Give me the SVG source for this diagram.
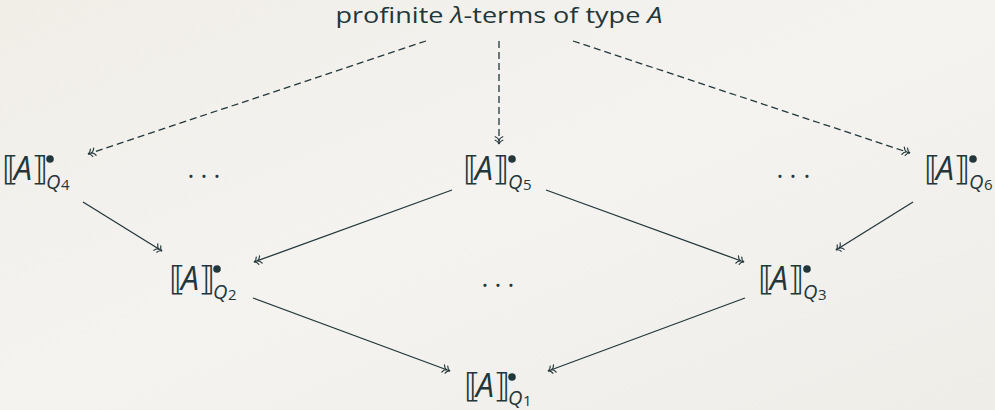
<svg xmlns="http://www.w3.org/2000/svg" width="995" height="410" viewBox="0 0 995 410">
  <defs>
    <linearGradient id="bg" x1="0" y1="0" x2="1" y2="1">
      <stop offset="0" stop-color="#f1eee8"/>
      <stop offset="0.5" stop-color="#f4f3f0"/>
      <stop offset="1" stop-color="#efede8"/>
    </linearGradient>
    <marker id="dh" viewBox="-9 -5 10 10" refX="0" refY="0" markerWidth="10" markerHeight="10" markerUnits="userSpaceOnUse" orient="auto">
      <path d="M-3.8,-3.8 C-3,-1.5 -1.2,-0.3 0,0 C-1.2,0.3 -3,1.5 -3.8,3.8 M-7.3,-3.8 C-6.5,-1.5 -4.7,-0.3 -3.5,0 C-4.7,0.3 -6.5,1.5 -7.3,3.8" fill="none" stroke="#23373b" stroke-width="1.2" stroke-linecap="round"/>
    </marker>
  </defs>
  <style>
    .t { fill: #23373b; font-family: "Open Sans", "Noto Sans", "DejaVu Sans", sans-serif; }
    .br { font-family: "DejaVu Sans", sans-serif; font-size: 33px; }
    .it { font-style: italic; font-size: 32px; }
    .q { font-style: italic; font-size: 20px; }
    .d { font-size: 15px; font-style: normal; }
    .c { fill: none; stroke: #23373b; stroke-width: 1.3; marker-end: url(#dh); }
    .dash { stroke-dasharray: 7 4; }
    .dots { font-size: 26px; text-anchor: middle; }
  </style>
  <rect width="995" height="410" fill="url(#bg)"/>

  <g id="title">
    <text class="t" x="499" y="23" font-size="21" text-anchor="middle" textLength="327" lengthAdjust="spacingAndGlyphs">profinite <tspan font-style="italic">λ</tspan>-terms of type <tspan font-style="italic">A</tspan></text>
  </g>

  <g id="connectors">
    <line class="c dash" x1="426" y1="41" x2="88" y2="154"/>
    <line class="c dash" x1="499" y1="41" x2="499" y2="144"/>
    <line class="c dash" x1="573" y1="41" x2="910" y2="153"/>
    <line class="c" x1="83" y1="202" x2="162" y2="251"/>
    <line class="c" x1="452" y1="190" x2="254" y2="262"/>
    <line class="c" x1="546" y1="190" x2="744" y2="262"/>
    <line class="c" x1="913" y1="202" x2="836" y2="250"/>
    <line class="c" x1="253" y1="298" x2="450" y2="371"/>
    <line class="c" x1="745" y1="298" x2="548" y2="371"/>
  </g>

  <g id="Q4" transform="translate(5,180)">
    <text class="t"><tspan class="br" x="-3" y="0">⟦</tspan><tspan class="it" x="9" y="0">A</tspan><tspan class="br" x="27" y="0">⟧</tspan><tspan class="q" x="41" y="9">Q</tspan><tspan class="d" x="56" y="10">4</tspan></text>
    <circle cx="45" cy="-21" r="3.8" fill="#23373b"/>
  </g>
  <g id="Q5" transform="translate(466,180)">
    <text class="t"><tspan class="br" x="-3" y="0">⟦</tspan><tspan class="it" x="9" y="0">A</tspan><tspan class="br" x="27" y="0">⟧</tspan><tspan class="q" x="42" y="9">Q</tspan><tspan class="d" x="57" y="10">5</tspan></text>
    <circle cx="46" cy="-21" r="3.8" fill="#23373b"/>
  </g>
  <g id="Q6" transform="translate(927,180)">
    <text class="t"><tspan class="br" x="-3" y="0">⟦</tspan><tspan class="it" x="9" y="0">A</tspan><tspan class="br" x="27" y="0">⟧</tspan><tspan class="q" x="42" y="9">Q</tspan><tspan class="d" x="57" y="10">6</tspan></text>
    <circle cx="46" cy="-21" r="3.8" fill="#23373b"/>
  </g>
  <g id="Q2" transform="translate(172,290)">
    <text class="t"><tspan class="br" x="-3" y="0">⟦</tspan><tspan class="it" x="9" y="0">A</tspan><tspan class="br" x="27" y="0">⟧</tspan><tspan class="q" x="41" y="9">Q</tspan><tspan class="d" x="56" y="10">2</tspan></text>
    <circle cx="45" cy="-21" r="3.8" fill="#23373b"/>
  </g>
  <g id="Q3" transform="translate(761,290)">
    <text class="t"><tspan class="br" x="-3" y="0">⟦</tspan><tspan class="it" x="9" y="0">A</tspan><tspan class="br" x="27" y="0">⟧</tspan><tspan class="q" x="42" y="9">Q</tspan><tspan class="d" x="57" y="10">3</tspan></text>
    <circle cx="46" cy="-21" r="3.8" fill="#23373b"/>
  </g>
  <g id="Q1" transform="translate(467,397)">
    <text class="t"><tspan class="br" x="-3" y="0">⟦</tspan><tspan class="it" x="9" y="0">A</tspan><tspan class="br" x="27" y="0">⟧</tspan><tspan class="q" x="41" y="8">Q</tspan><tspan class="d" x="56" y="9">1</tspan></text>
    <circle cx="45" cy="-20" r="3.8" fill="#23373b"/>
  </g>

  <g id="dots-left"><text class="t dots" x="191 204 217" y="185">···</text></g>
  <g id="dots-right"><text class="t dots" x="780 793 807" y="185">···</text></g>
  <g id="dots-mid"><text class="t dots" x="485 498 511" y="294">···</text></g>
</svg>
